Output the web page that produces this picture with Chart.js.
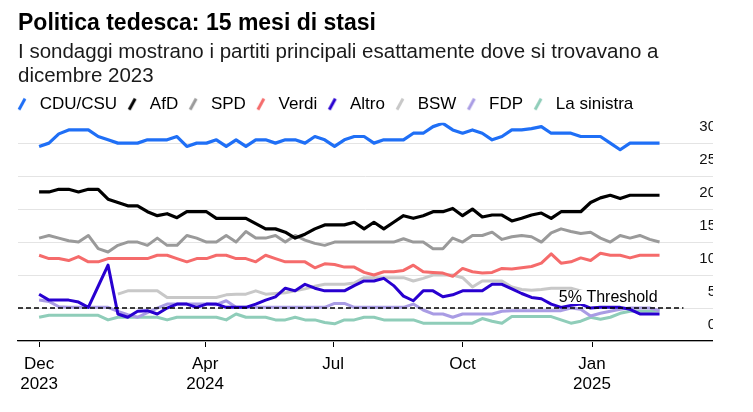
<!DOCTYPE html>
<html>
<head>
<meta charset="utf-8">
<script src="https://cdn.jsdelivr.net/npm/chart.js@4.4.1/dist/chart.umd.min.js"></script>
<style>
    html, body { margin: 0; padding: 0; background: #fff; }
    #ritaglio { width: 713px; height: 412px; overflow: hidden; }
    #contenitore { width: 753px; height: 412px; position: relative; }
</style>
</head>
<body>
<div id="ritaglio"><div id="contenitore"><canvas id="grafico"></canvas></div></div>
<script>
// Una rilevazione a settimana, a partire dal 5 dicembre 2023
const primaSettimana = '2023-12-05';
const numSettimane = 64;

// Valori dei sondaggi (%)
const cduCsu = [29.5, 30, 31.4, 32, 32, 32, 31, 30.5, 30, 30, 30, 30.5, 30.5, 30.5, 31, 29.5, 30, 30, 30.5, 29.5, 30.5, 29.5, 30.5, 30.5,
    30, 30.5, 30.5, 30, 31, 30.5, 29.5, 30.5, 31, 31, 30, 30.5, 30.5, 30.5, 31.5, 31.5, 32.5, 33, 32, 31.5, 32, 31.5, 30.5, 31,
    32, 32, 32.2, 32.5, 31.5, 31.5, 31.5, 31, 31, 31, 30, 29, 30, 30, 30, 30];
const afd = [22.6, 22.6, 23, 23, 22.6, 23, 23, 21.5, 21, 20.5, 20.5, 19.6, 19, 19.3, 18.7, 19.6, 19.6, 19.6, 18.6, 18.6, 18.6, 18.6, 17.8, 17,
    17, 16.5, 15.6, 16.2, 17, 17.6, 17.6, 17.6, 18, 17, 18, 17, 18, 19, 18.6, 19, 19.6, 19.6, 20.1, 19, 20, 18.8, 19.1, 19.1,
    18.2, 18.6, 19.1, 19.4, 18.6, 19.6, 19.6, 19.6, 21, 21.7, 22.1, 21.6, 22.1, 22.1, 22.1, 22.1];
const spd = [15.6, 16, 15.6, 15.2, 15, 16, 14, 13.5, 14.5, 15, 15, 14.5, 15.6, 14.5, 14.5, 16, 15.6, 15, 15, 16, 15, 16.6, 15.6, 15.6,
    16, 15, 16, 15.3, 14.8, 14.5, 15, 15, 15, 15, 15, 15, 15, 15.5, 15, 15, 14, 14, 15.6, 15, 16, 16, 16.5, 15.4,
    15.8, 16, 15.8, 15, 16.4, 17, 16.6, 16.3, 16.5, 15.6, 15, 16, 15.6, 16, 15.4, 15];
const verdi = [13, 12.5, 12.5, 12.2, 12.8, 12, 12, 12.5, 12.5, 12.5, 12.5, 12.5, 13, 13, 12.5, 12, 12.5, 12.5, 13, 13, 12.5, 12.5, 12, 13,
    12.5, 12, 12, 12, 11.1, 11.7, 11.6, 11.2, 11.2, 10.4, 10, 10.5, 10.5, 10.7, 11.5, 10.5, 10.4, 10.3, 9.8, 11, 10.5, 10.3, 10.4, 11,
    10.9, 11.1, 11.3, 11.8, 13.2, 11.8, 12, 12.6, 12.2, 13.3, 13, 13, 12.6, 13, 13, 13];
const altro = [7.1, 6.2, 6.2, 6.2, 5.9, 5.1, 8.3, 11.5, 4.1, 3.6, 4.5, 4.6, 4.1, 5, 5.6, 5.6, 5.1, 5.6, 5.6, 5.1, 5.1, 5.1, 5.6, 6.2,
    6.7, 8, 7.6, 8.6, 8, 7.6, 7.6, 7.6, 8.4, 9.1, 9.1, 9.5, 8.4, 6.8, 6.1, 7.6, 7.6, 6.7, 7, 7.6, 7.6, 7.6, 8.6, 8.6,
    7.9, 7.2, 6.6, 6.4, 5.6, 5.1, 5.4, 5.6, 5, 5.1, 5.1, 5.1, 4.8, 4.1, 4.1, 4.1];
const bsw = [null, null, null, null, null, null, null, null, 7.1, 7.6, 7.6, 7.6, 7.6, 6.6, 6.6, 6.6, 6.6, 6.6, 6.6, 7, 7.1, 7.1, 7.6, 7.1,
    7.2, 7.3, 7.6, 7.9, 8.3, 8.6, 8.6, 8.6, 8.8, 9.6, 9.6, 9.6, 9.6, 9.6, 9.1, 9.5, 10, 10, 10, 9.6, 8.2, 9.1, 9.1, 9.1,
    8.2, 7.8, 7.7, 7.8, 8, 8, 8, 7.6, 7.2, 7, 7, 6.8, 6.8, 6.6, 6.6, 6.6];
const fdp = [6.2, 6, 5.2, 5.1, 5.1, 5.1, 5.1, 5.1, 4.5, 4, 3.6, 4.3, 5, 5.6, 5.6, 5.6, 5.6, 5.6, 5.5, 6.1, 5.1, 5.1, 5.1, 5.1,
    5.1, 5.1, 5.1, 5.1, 5.1, 5.1, 5.7, 5.7, 5.1, 5.1, 5.1, 5.1, 5.1, 5.1, 5.6, 4.7, 4.1, 4.1, 3.6, 4.1, 4.1, 4.1, 4.1, 4.5,
    4.6, 4.6, 4.6, 4.6, 4.6, 4.6, 5, 4.8, 3.8, 4.2, 4.5, 4.8, 5, 5, 5, 4.6];
const sinistra = [3.6, 3.9, 3.9, 3.9, 3.9, 3.9, 3.9, 3.2, 3.6, 3.6, 3.6, 3.6, 3.6, 3.2, 3.6, 3.6, 3.6, 3.6, 3.6, 3.2, 4.1, 3.6, 3.6, 3.6,
    3.2, 3.2, 3.6, 3.2, 3.2, 2.8, 2.6, 3.2, 3.2, 3.6, 3.6, 3.2, 3.2, 3.2, 3.2, 2.7, 2.7, 2.7, 2.7, 2.7, 2.7, 3.4, 3, 2.7,
    3.7, 3.7, 3.7, 3.7, 3.7, 3.2, 2.7, 3, 3.6, 3.3, 3.6, 4.2, 4.5, 4.5, 4.5, 4.6];

const partiti = ['CDU/CSU', 'AfD', 'SPD', 'Verdi', 'Altro', 'BSW', 'FDP', 'La sinistra'];
const serie = [cduCsu, afd, spd, verdi, altro, bsw, fdp, sinistra];
const colori = ['#1f6ff6', '#000000', '#9a9a9a', '#f56b6b', '#2800d0', '#c8c8c8', '#a99ce4', '#8fcdb9'];

// Asse X
const dateAsse = ['2023-12-05', '2024-04-01', '2024-07-01', '2024-10-01', '2025-01-01'];
const etichetteAsse = [['Dec', '2023'], ['Apr', '2024'], ['Jul'], ['Oct'], ['Jan', '2025']];
const inizioAsse = '2023-11-20';
const fineAsse = '2025-03-28';

// Asse Y
const tickY = [0, 5, 10, 15, 20, 25, 30];
const massimoY = 33.1;

// Soglia del 5%
const soglia = 5;
const sogliaDa = '2023-11-20';
const sogliaA = '2025-03-07';
const testoSoglia = '5% Threshold';

function giorni(data) {
    return (Date.parse(data) - Date.parse(primaSettimana)) / 86400000;
}

const settimane = [];
for (let i = 0; i < numSettimane; i++) settimane.push(i * 7);

// Piccola barra obliqua per la legenda
function segno(colore) {
    const c = document.createElement('canvas');
    c.width = 12;
    c.height = 14;
    const g = c.getContext('2d');
    g.strokeStyle = colore;
    g.lineWidth = 3;
    g.beginPath();
    g.moveTo(3, 12.5);
    g.lineTo(9, 1.5);
    g.stroke();
    return c;
}

const etichettaSoglia = {
    id: 'etichettaSoglia',
    afterDatasetsDraw(chart) {
        const { ctx, scales: { x, y } } = chart;
        ctx.save();
        ctx.font = "16px 'Liberation Sans', Arial, sans-serif";
        const w = ctx.measureText(testoSoglia).width;
        const destra = x.getPixelForValue(settimane[settimane.length - 1]);
        const base = y.getPixelForValue(soglia) - 6;
        ctx.fillStyle = '#fff';
        ctx.fillRect(destra - w - 3, base - 12, w + 4, 14);
        ctx.fillStyle = '#000';
        ctx.textAlign = 'right';
        ctx.textBaseline = 'alphabetic';
        ctx.fillText(testoSoglia, destra - 2, base);
        ctx.restore();
    }
};

Chart.defaults.font.family = "'Liberation Sans', Arial, sans-serif";
Chart.defaults.color = '#000';

const datasets = partiti.map((nome, k) => ({
    label: nome,
    data: serie[k].map((v, i) => ({ x: settimane[i], y: v })),
    borderColor: colori[k],
    backgroundColor: colori[k],
    borderWidth: k < 2 ? 3.2 : 3,
    pointRadius: 0,
    tension: 0,
    borderJoinStyle: 'round',
    spanGaps: false
}));

datasets.push({
    label: 'soglia',
    data: [{ x: giorni(sogliaDa), y: soglia }, { x: giorni(sogliaA), y: soglia }],
    borderColor: '#000',
    borderWidth: 1.5,
    borderDash: [5, 3],
    pointRadius: 0,
    order: -1
});

new Chart(document.getElementById('grafico'), {
    type: 'line',
    data: { datasets: datasets },
    options: {
        responsive: true,
        maintainAspectRatio: false,
        animation: false,
        layout: { padding: { left: 7, right: 40, top: 0, bottom: 0 } },
        plugins: {
            title: {
                display: true,
                text: 'Politica tedesca: 15 mesi di stasi',
                align: 'start',
                fullSize: false,
                color: '#000',
                font: { size: 23, weight: 'bold', lineHeight: 1.2 },
                padding: { top: 10, bottom: 0 }
            },
            subtitle: {
                display: true,
                text: ['I sondaggi mostrano i partiti principali esattamente dove si trovavano a', 'dicembre 2023'],
                align: 'start',
                fullSize: false,
                color: '#1a1a1a',
                font: { size: 20.5, lineHeight: 1.17 },
                padding: { top: 2.5, bottom: 1.8 }
            },
            legend: {
                display: true,
                position: 'top',
                align: 'start',
                labels: {
                    usePointStyle: true,
                    pointStyleWidth: 18.4,
                    padding: 5.8,
                    color: '#000',
                    font: { size: 17 },
                    generateLabels: chart => partiti.map((nome, k) => ({
                        text: nome,
                        pointStyle: segno(colori[k]),
                        fontColor: '#000',
                        fillStyle: colori[k],
                        strokeStyle: colori[k],
                        lineWidth: 0,
                        hidden: false,
                        datasetIndex: k
                    }))
                }
            },
            tooltip: { enabled: false }
        },
        scales: {
            x: {
                type: 'linear',
                min: giorni(inizioAsse),
                max: giorni(fineAsse),
                afterBuildTicks: a => { a.ticks = dateAsse.map(d => ({ value: giorni(d) })); },
                afterFit: s => { s.height = 71; },
                grid: { drawOnChartArea: false, drawTicks: true, tickLength: 6, color: '#000', lineWidth: 1 },
                border: { display: true, color: '#000', width: 1.3 },
                ticks: {
                    callback: (v, i) => etichetteAsse[i],
                    padding: 8,
                    color: '#000',
                    font: { size: 17, lineHeight: 1.15 },
                    maxRotation: 0,
                    autoSkip: false
                }
            },
            y: {
                position: 'right',
                min: 0,
                max: massimoY,
                afterBuildTicks: a => { a.ticks = tickY.map(v => ({ value: v })); },
                afterFit: s => { s.width = 0; },
                grid: { color: '#e4e4e4', lineWidth: 1, drawTicks: false },
                border: { display: false },
                ticks: { mirror: true, crossAlign: 'near', padding: 3, labelOffset: -16, color: '#111', font: { size: 15 } }
            },
            yl: {
                position: 'left',
                afterFit: s => { s.width = 11; },
                ticks: { display: false },
                grid: { display: false },
                border: { display: false }
            }
        }
    },
    plugins: [etichettaSoglia]
});
</script>
</body>
</html>
